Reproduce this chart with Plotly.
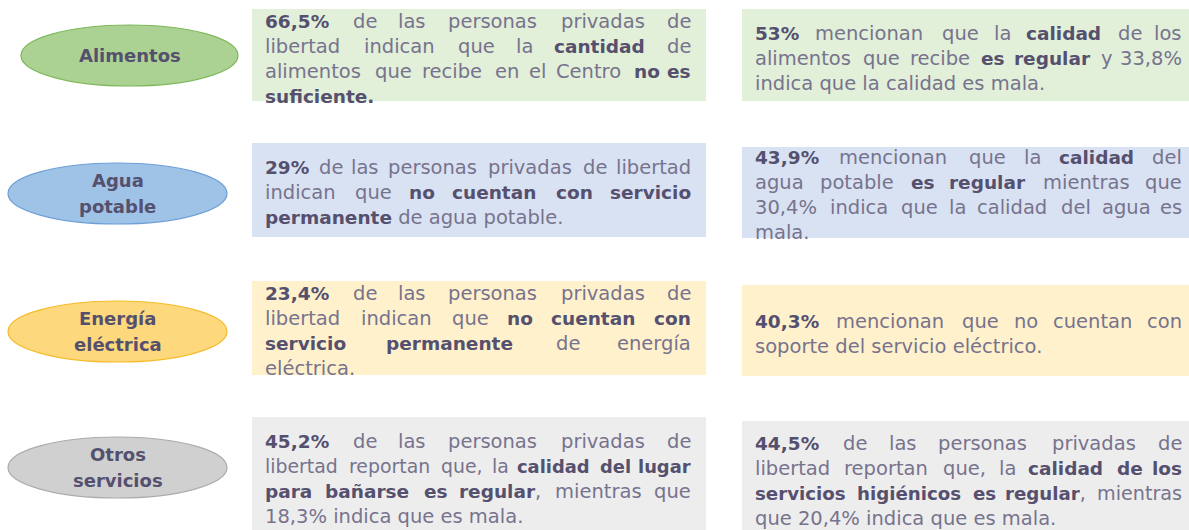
"""
plot.py -- infographic: condiciones de servicios básicos (personas privadas de libertad).

Built only from plotly shapes + annotations; every text line is justified by
hand (word by word) because plotly annotations cannot justify text.
"""

import re
import unicodedata

import plotly.graph_objects as go

# ──────────────────────────────────────────────────────────────────
#  Data
# ──────────────────────────────────────────────────────────────────

categories = ["Alimentos", "Agua<br>potable", "Energía<br>eléctrica", "Otros<br>servicios"]

left_texts = [
    [
        "<b>66,5%</b> de las personas privadas de",
        "libertad indican que la <b>cantidad</b> de",
        "alimentos que recibe en el Centro <b>no es</b>",
        "<b>suficiente.</b>",
    ],
    [
        "<b>29%</b> de las personas privadas de libertad",
        "indican que <b>no cuentan con servicio</b>",
        "<b>permanente</b> de agua potable.",
    ],
    [
        "<b>23,4%</b> de las personas privadas de",
        "libertad indican que <b>no cuentan con</b>",
        "<b>servicio permanente</b> de energía",
        "eléctrica.",
    ],
    [
        "<b>45,2%</b> de las personas privadas de",
        "libertad reportan que, la <b>calidad del lugar</b>",
        "<b>para bañarse es regular</b>, mientras que",
        "18,3% indica que es mala.",
    ],
]

right_texts = [
    [
        "<b>53%</b> mencionan que la <b>calidad</b> de los",
        "alimentos que recibe <b>es regular</b> y 33,8%",
        "indica que la calidad es mala.",
    ],
    [
        "<b>43,9%</b> mencionan que la <b>calidad</b> del",
        "agua potable <b>es regular</b> mientras que",
        "30,4% indica que la calidad del agua es",
        "mala.",
    ],
    [
        "<b>40,3%</b> mencionan que no cuentan con",
        "soporte del servicio eléctrico.",
    ],
    [
        "<b>44,5%</b> de las personas privadas de",
        "libertad reportan que, la <b>calidad de los</b>",
        "<b>servicios higiénicos es regular</b>, mientras",
        "que 20,4% indica que es mala.",
    ],
]

# ──────────────────────────────────────────────────────────────────
#  Layout / style (pixel space, y grows downwards)
# ──────────────────────────────────────────────────────────────────

W, H = 1189, 530
FONT = "DejaVu Sans"
REG_SIZE = 19.5
BOLD_SIZE = 18.5
LABEL_SIZE = 18
LINE_STEP = 25
MIN_GAP = 7
FUDGE = 1.05  # err on the wide side so neighbouring words never touch
REG_COLOR = "#77738d"
BOLD_COLOR = "#55506e"

ellipse_fill = ["#acd293", "#9fc2e7", "#fed87c", "#d0d0d0"]
ellipse_line = ["#7db85a", "#6d9fd6", "#f6bb2a", "#ababab"]
box_fill = ["#e2efd9", "#d9e2f3", "#fff1cc", "#ededed"]

ellipse_x = [(21, 238), (8, 227), (8, 227), (8, 227)]
ellipse_y = [(25, 86), (163, 224), (301, 362), (437, 498)]

left_box_x = (252, 706)
right_box_x = (742, 1189)
left_box_y = [(9, 101), (143, 237), (281, 375), (417, 530)]
right_box_y = [(9, 101), (147, 238), (285, 376), (421, 530)]

left_text_x = (263, 693)
right_text_x = (753, 1184)
left_first_y = [21, 167, 293, 441]
right_first_y = [33, 157, 321, 443]

# approximate DejaVu Sans advance widths (em)
REG_W = dict(zip(" ,.%0123456789abcdefghijklmnopqrstuvwxyzC",
                 [0.318, 0.318, 0.318, 0.950] + [0.636] * 10 +
                 [0.613, 0.635, 0.550, 0.635, 0.615, 0.352, 0.635, 0.634, 0.278, 0.278,
                  0.579, 0.278, 0.974, 0.634, 0.612, 0.635, 0.635, 0.411, 0.521, 0.392,
                  0.634, 0.592, 0.818, 0.592, 0.592, 0.525, 0.698]))
BOLD_W = dict(zip(" ,.%0123456789abcdefghijklmnopqrstuvwxyzC",
                  [0.348, 0.380, 0.380, 1.002] + [0.696] * 10 +
                  [0.675, 0.716, 0.593, 0.716, 0.678, 0.435, 0.716, 0.712, 0.343, 0.343,
                   0.665, 0.343, 1.042, 0.712, 0.687, 0.716, 0.716, 0.493, 0.595, 0.478,
                   0.712, 0.652, 0.924, 0.645, 0.652, 0.582, 0.734]))


def char_w(ch, bold, scale=1.0):
    base = unicodedata.normalize("NFD", ch)[0]
    if bold:
        return BOLD_W.get(base, 0.66) * BOLD_SIZE * scale * FUDGE
    return REG_W.get(base, 0.62) * REG_SIZE * scale * FUDGE


def parse_words(line):
    """Split a line into words; each word is a list of (text, bold) runs."""
    words, bold = [[]], False
    for part in re.split(r"(</?b>)", line):
        if part == "<b>":
            bold = True
            continue
        if part == "</b>":
            bold = False
            continue
        for k, piece in enumerate(part.split(" ")):
            if k > 0:
                words.append([])
            if piece:
                words[-1].append((piece, bold))
    return [w for w in words if w]


def word_markup(word, scale=1.0):
    out = ""
    for txt, b in word:
        if b:
            out += (f"<b><span style='color:{BOLD_COLOR};"
                    f"font-size:{BOLD_SIZE * scale:.1f}px'>{txt}</span></b>")
        else:
            out += txt
    return out


def word_width(word, scale=1.0):
    return sum(char_w(c, b, scale) for txt, b in word for c in txt)


def add_paragraph(fig, lines, x_span, y0):
    x_left, x_right = x_span
    avail = x_right - x_left
    for i, line in enumerate(lines):
        y = y0 + i * LINE_STEP
        words = parse_words(line)
        last = i == len(lines) - 1
        n_gaps = max(len(words) - 1, 1)
        natural = sum(word_width(w) for w in words)
        # shrink a line slightly when it would not fit with a normal space
        scale = min(1.0, (avail - n_gaps * MIN_GAP) / natural) if not last else 1.0
        common = dict(xref="x", yref="y", y=y, yanchor="middle", showarrow=False,
                      font=dict(family=FONT, size=REG_SIZE * scale, color=REG_COLOR))
        if last or len(words) == 1:
            # last line of a paragraph is not justified
            fig.add_annotation(x=x_left, xanchor="left",
                               text=" ".join(word_markup(w) for w in words), **common)
            continue
        widths = [word_width(w, scale) for w in words]
        gap = (avail - sum(widths)) / n_gaps
        x = x_left
        for j, (w, ww) in enumerate(zip(words, widths)):
            if j == len(words) - 1:
                fig.add_annotation(x=x_right, xanchor="right",
                                   text=word_markup(w, scale), **common)
            else:
                fig.add_annotation(x=x, xanchor="left", text=word_markup(w, scale), **common)
            x += ww + gap


fig = go.Figure()

for r, label in enumerate(categories):
    # coloured text boxes
    fig.add_shape(type="rect", x0=left_box_x[0], x1=left_box_x[1],
                  y0=left_box_y[r][0], y1=left_box_y[r][1],
                  fillcolor=box_fill[r], line_width=0, layer="below")
    fig.add_shape(type="rect", x0=right_box_x[0], x1=right_box_x[1],
                  y0=right_box_y[r][0], y1=right_box_y[r][1],
                  fillcolor=box_fill[r], line_width=0, layer="below")
    # category ellipse
    fig.add_shape(type="circle", x0=ellipse_x[r][0], x1=ellipse_x[r][1],
                  y0=ellipse_y[r][0], y1=ellipse_y[r][1],
                  fillcolor=ellipse_fill[r], line=dict(color=ellipse_line[r], width=1.2),
                  layer="below")
    parts = label.split("<br>")
    cx = sum(ellipse_x[r]) / 2
    cy = sum(ellipse_y[r]) / 2
    for k, part in enumerate(parts):
        fig.add_annotation(x=cx, y=cy + (k - (len(parts) - 1) / 2) * 26,
                           xref="x", yref="y", text=f"<b>{part}</b>", showarrow=False,
                           font=dict(family=FONT, size=LABEL_SIZE, color=BOLD_COLOR))

    add_paragraph(fig, left_texts[r], left_text_x, left_first_y[r])
    add_paragraph(fig, right_texts[r], right_text_x, right_first_y[r])

fig.update_xaxes(range=[0, W], visible=False, fixedrange=True)
fig.update_yaxes(range=[H, 0], visible=False, fixedrange=True)
fig.update_layout(
    width=W,
    height=H,
    margin=dict(l=0, r=0, t=0, b=0),
    paper_bgcolor="white",
    plot_bgcolor="white",
    showlegend=False,
)

# drop the default 8px page margin so the figure fills the window exactly
fig.write_html("out.html", config={"displayModeBar": False},
               post_script="document.body.style.margin='0';")
